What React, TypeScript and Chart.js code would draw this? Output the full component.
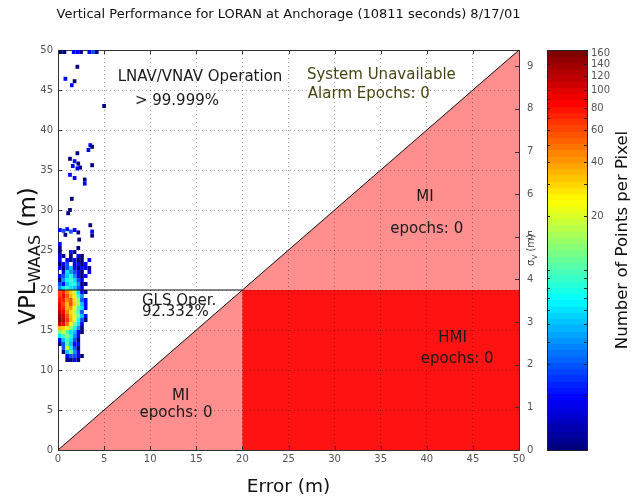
import { useEffect, useRef } from "react";
import { Chart, registerables } from "chart.js";

Chart.register(...registerables);

const TITLE = "Vertical Performance for LORAN at Anchorage (10811 seconds) 8/17/01";
const X_LABEL = "Error (m)";
const CB_LABEL = "Number of Points per Pixel";

const AXIS_MIN = 0;
const AXIS_MAX = 50;
const AXIS_STEP = 5;
const ALERT_LIMIT = 20;
const SIGMA_FACTOR = 5.33;
const SIGMA_TICKS = [0, 1, 2, 3, 4, 5, 6, 7, 8, 9];
const CB_MIN = 1;
const CB_MAX = 168;
const CB_TICKS = [20, 40, 60, 80, 100, 120, 140, 160];
const CB_MINOR = [2, 3, 4, 5, 6, 7, 8, 9, 10, 30, 50, 70, 90];
const CB_LEVELS = 64;

// density map: cell centres (error, VPL) and counts per cell
const CELL_W = 0.4;
const CELL_H = 0.5;
const gridX = [0.2, 0.6, 1.0, 1.4, 1.8, 2.2, 2.6, 3.0, 3.4, 3.8];
const gridY = [
  25.75, 25.25, 24.75, 24.25, 23.75, 23.25, 22.75, 22.25, 21.75, 21.25, 20.75, 20.25,
  19.75, 19.25, 18.75, 18.25, 17.75, 17.25, 16.75, 16.25, 15.75, 15.25, 14.75, 14.25,
  13.75, 13.25, 12.75, 12.25, 11.75, 11.25,
];
const gridCounts = [
  [2, 0, 0, 0, 0, 0, 0, 0, 0, 0],
  [1, 0, 0, 0, 0, 1, 0, 0, 0, 0],
  [1, 0, 0, 2, 1, 0, 0, 0, 0, 0],
  [2, 1, 0, 1, 0, 2, 1, 0, 0, 0],
  [2, 0, 2, 1, 2, 1, 1, 0, 2, 0],
  [1, 2, 3, 0, 2, 2, 1, 2, 0, 0],
  [2, 1, 3, 5, 2, 1, 2, 2, 1, 0],
  [0, 2, 6, 4, 3, 2, 1, 0, 2, 0],
  [2, 3, 5, 8, 4, 2, 1, 2, 0, 0],
  [1, 4, 7, 10, 6, 3, 2, 0, 0, 0],
  [3, 2, 5, 8, 8, 4, 1, 1, 0, 0],
  [4, 6, 9, 6, 5, 3, 2, 0, 0, 0],
  [60, 75, 45, 30, 18, 6, 2, 1, 0, 0],
  [65, 85, 55, 35, 25, 9, 4, 0, 0, 0],
  [80, 70, 45, 55, 28, 14, 3, 2, 0, 0],
  [90, 60, 35, 60, 30, 16, 5, 2, 0, 0],
  [100, 75, 35, 40, 22, 10, 6, 2, 0, 0],
  [120, 85, 45, 28, 18, 10, 3, 0, 0, 0],
  [140, 110, 55, 32, 20, 12, 5, 2, 0, 0],
  [150, 115, 65, 35, 24, 8, 3, 1, 0, 0],
  [105, 85, 50, 25, 12, 6, 2, 0, 0, 0],
  [35, 30, 22, 14, 8, 4, 1, 0, 0, 0],
  [12, 18, 10, 6, 5, 2, 1, 0, 0, 0],
  [6, 9, 14, 8, 4, 2, 0, 0, 0, 0],
  [2, 5, 9, 6, 3, 1, 0, 0, 0, 0],
  [1, 3, 11, 5, 2, 2, 0, 0, 0, 0],
  [0, 3, 18, 7, 3, 1, 0, 0, 0, 0],
  [0, 1, 5, 12, 4, 2, 0, 0, 0, 0],
  [0, 0, 2, 3, 3, 2, 1, 0, 0, 0],
  [0, 0, 1, 1, 2, 1, 0, 0, 0, 0],
];

// isolated cells
const sparseX = [
  0.3, 0.7, 1.7, 2.1, 2.5, 3.4, 3.8, 4.2,
  2.1, 0.8, 1.8, 1.5, 5.0,
  3.5, 3.3, 3.7, 2.1, 1.3, 1.8, 2.2, 1.6, 2.4, 2.1, 3.7, 1.3, 1.8, 2.9, 2.9, 1.5, 1.3, 1.1, 3.5, 3.7, 3.7,
  0.2, 0.6, 1.0, 1.4, 1.8, 2.2, 0.8, 2.3,
];
const sparseY = [
  49.75, 49.75, 49.75, 49.75, 49.75, 49.75, 49.75, 49.75,
  47.9, 46.4, 46.1, 45.6, 43.0,
  38.1, 37.5, 37.9, 37.1, 36.4, 36.1, 35.8, 35.5, 35.3, 35.2, 35.6, 34.4, 34.0, 33.8, 33.3, 31.4, 30.0, 29.6, 28.1, 27.3, 26.8,
  27.5, 27.4, 27.6, 27.3, 27.5, 27.2, 26.9, 26.3,
];
const sparseN = [
  1, 1, 2, 2, 1, 2, 3, 1,
  1, 2, 1, 2, 1,
  2, 2, 1, 1, 1, 2, 1, 2, 1, 2, 1, 2, 2, 1, 2, 1, 1, 1, 1, 2, 1,
  2, 3, 2, 3, 2, 1, 1, 1,
];

const PINK = "rgb(255,142,142)";
const RED = "rgb(255,18,18)";
const FONT = "'DejaVu Sans', 'Liberation Sans', sans-serif";

const clamp = (v: number) => Math.max(0, Math.min(1, v));
function jet(f: number) {
  const q = Math.max(0, Math.min(CB_LEVELS - 1, Math.floor(f * CB_LEVELS)));
  const t = q / (CB_LEVELS - 1);
  const r = clamp(1.5 - Math.abs(4 * t - 3));
  const g = clamp(1.5 - Math.abs(4 * t - 2));
  const b = clamp(1.5 - Math.abs(4 * t - 1));
  return `rgb(${Math.round(r * 255)},${Math.round(g * 255)},${Math.round(b * 255)})`;
}

const stanfordPlugin = {
  id: "stanford",
  beforeDraw(chart: any) {
    const { ctx, scales } = chart;
    const xs = scales.x;
    const ys = scales.y;
    const px = (v: number) => xs.getPixelForValue(v);
    const py = (v: number) => ys.getPixelForValue(v);
    ctx.save();
    ctx.fillStyle = PINK;
    ctx.beginPath();
    ctx.moveTo(px(AXIS_MIN), py(AXIS_MIN));
    ctx.lineTo(px(AXIS_MAX), py(AXIS_MIN));
    ctx.lineTo(px(AXIS_MAX), py(AXIS_MAX));
    ctx.closePath();
    ctx.fill();
    ctx.fillStyle = RED;
    ctx.fillRect(px(ALERT_LIMIT), py(ALERT_LIMIT), px(AXIS_MAX) - px(ALERT_LIMIT), py(AXIS_MIN) - py(ALERT_LIMIT));
    ctx.restore();
  },
  beforeDatasetsDraw(chart: any) {
    const { ctx, chartArea: a, scales } = chart;
    const xs = scales.x;
    const ys = scales.y;
    const sg = scales.sigma;
    const cb = scales.cb;
    const colorFor = (n: number) =>
      jet((cb.bottom - cb.getPixelForValue(n)) / (cb.bottom - cb.top));
    ctx.save();
    // box
    ctx.strokeStyle = "#333";
    ctx.lineWidth = 1;
    ctx.strokeRect(Math.round(a.left) + 0.5, Math.round(a.top) + 0.5, Math.round(a.right - a.left), Math.round(a.bottom - a.top));
    // inward ticks
    ctx.beginPath();
    for (let v = AXIS_MIN; v <= AXIS_MAX; v += AXIS_STEP) {
      const x = Math.round(xs.getPixelForValue(v)) + 0.5;
      ctx.moveTo(x, a.bottom); ctx.lineTo(x, a.bottom - 4);
      ctx.moveTo(x, a.top); ctx.lineTo(x, a.top + 4);
      const y = Math.round(ys.getPixelForValue(v)) + 0.5;
      ctx.moveTo(a.left, y); ctx.lineTo(a.left + 4, y);
    }
    for (const s of SIGMA_TICKS) {
      const y = Math.round(sg.getPixelForValue(s)) + 0.5;
      ctx.moveTo(a.right, y); ctx.lineTo(a.right - 4, y);
    }
    ctx.stroke();
    // density cells
    ctx.beginPath();
    ctx.rect(a.left - 1, a.top - 1, a.right - a.left + 2, a.bottom - a.top + 2);
    ctx.clip();
    const cell = (cx: number, cy: number, n: number) => {
      if (!n) return;
      const x0 = xs.getPixelForValue(cx - CELL_W / 2);
      const x1 = xs.getPixelForValue(cx + CELL_W / 2);
      const y0 = ys.getPixelForValue(cy + CELL_H / 2);
      const y1 = ys.getPixelForValue(cy - CELL_H / 2);
      ctx.fillStyle = colorFor(n);
      ctx.fillRect(x0, y0, x1 - x0, y1 - y0);
    };
    gridY.forEach((cy, r) => gridX.forEach((cx, c) => cell(cx, cy, gridCounts[r][c])));
    sparseX.forEach((cx, i) => cell(cx, sparseY[i], sparseN[i]));
    ctx.restore();
  },
  afterDraw(chart: any) {
    const { ctx, chartArea: a, scales } = chart;
    const xs = scales.x;
    const ys = scales.y;
    const cb = scales.cb;
    const px = (v: number) => xs.getPixelForValue(v);
    const py = (v: number) => ys.getPixelForValue(v);
    ctx.save();
    // colorbar
    const cbL = cb.left;
    const cbR = cb.left + 40;
    for (let i = 0; i < CB_LEVELS; i++) {
      const lo = Math.pow(CB_MAX / CB_MIN, i / CB_LEVELS) * CB_MIN;
      const hi = Math.pow(CB_MAX / CB_MIN, (i + 1) / CB_LEVELS) * CB_MIN;
      const y0 = cb.getPixelForValue(hi);
      const y1 = cb.getPixelForValue(lo);
      ctx.fillStyle = jet((i + 0.5) / CB_LEVELS);
      ctx.fillRect(cbL, Math.floor(y0), cbR - cbL, Math.ceil(y1) - Math.floor(y0));
    }
    ctx.strokeStyle = "#222";
    ctx.lineWidth = 1;
    ctx.strokeRect(cbL + 0.5, Math.round(cb.top) + 0.5, cbR - cbL, Math.round(cb.bottom - cb.top));
    ctx.beginPath();
    [...CB_TICKS, ...CB_MINOR].forEach((v) => {
      const y = Math.round(cb.getPixelForValue(v)) + 0.5;
      ctx.moveTo(cbL, y); ctx.lineTo(cbL + 3, y);
      ctx.moveTo(cbR, y); ctx.lineTo(cbR - 3, y);
    });
    ctx.stroke();

    // title
    ctx.fillStyle = "#111";
    ctx.textAlign = "center";
    ctx.textBaseline = "middle";
    ctx.font = `13px ${FONT}`;
    ctx.fillText(TITLE, (a.left + a.right) / 2, 15);
    // x label
    ctx.font = `18.5px ${FONT}`;
    ctx.fillText(X_LABEL, (a.left + a.right) / 2, 487);

    // y label with subscript
    const yc = (a.top + a.bottom) / 2;
    ctx.save();
    ctx.translate(35, yc + 6);
    ctx.rotate(-Math.PI / 2);
    ctx.textAlign = "left";
    ctx.textBaseline = "alphabetic";
    const big = `23px ${FONT}`;
    const small = `16px ${FONT}`;
    ctx.font = big; const w1 = ctx.measureText("VPL").width; const w3 = ctx.measureText(" (m)").width;
    ctx.font = small; const w2 = ctx.measureText("WAAS").width;
    let sx = -(w1 + w2 + w3) / 2;
    ctx.font = big; ctx.fillText("VPL", sx, 0); sx += w1;
    ctx.font = small; ctx.fillText("WAAS", sx, 5); sx += w2;
    ctx.font = big; ctx.fillText(" (m)", sx, 0);
    ctx.restore();

    // sigma label
    ctx.save();
    ctx.translate(534, yc);
    ctx.rotate(-Math.PI / 2);
    ctx.textAlign = "left";
    ctx.textBaseline = "alphabetic";
    ctx.fillStyle = "#444";
    const sBig = `10px ${FONT}`;
    const sSmall = `7px ${FONT}`;
    ctx.font = sBig; const s1 = ctx.measureText("σ").width; const s3 = ctx.measureText(" (m)").width;
    ctx.font = sSmall; const s2 = ctx.measureText("V").width;
    let tx = -(s1 + s2 + s3) / 2;
    ctx.font = sBig; ctx.fillText("σ", tx, 0); tx += s1;
    ctx.font = sSmall; ctx.fillText("V", tx, 3); tx += s2;
    ctx.font = sBig; ctx.fillText(" (m)", tx, 0);
    ctx.restore();

    // colorbar label
    ctx.save();
    ctx.translate(623, (cb.top + cb.bottom) / 2 - 10);
    ctx.rotate(-Math.PI / 2);
    ctx.textAlign = "center";
    ctx.textBaseline = "middle";
    ctx.fillStyle = "#111";
    ctx.font = `16.5px ${FONT}`;
    ctx.fillText(CB_LABEL, 0, 0);
    ctx.restore();

    // region annotations
    const text = (s: string, x: number, y: number, align: CanvasTextAlign, color = "#1a1a1a") => {
      ctx.textAlign = align;
      ctx.fillStyle = color;
      ctx.fillText(s, px(x), py(y));
    };
    ctx.textBaseline = "middle";
    ctx.font = `15px ${FONT}`;
    text("LNAV/VNAV Operation", 15.4, 46.6, "center");
    text("> 99.999%", 12.9, 43.6, "center");
    text("System Unavailable", 27.0, 46.8, "left", "rgb(70,70,20)");
    text("Alarm Epochs: 0", 27.1, 44.5, "left", "rgb(70,70,20)");
    text("MI", 39.8, 31.6, "center");
    text("epochs: 0", 40.0, 27.6, "center");
    text("GLS Oper.", 9.1, 18.6, "left");
    text("92.332%", 9.1, 17.2, "left");
    text("HMI", 42.8, 14.0, "center");
    text("epochs: 0", 43.3, 11.3, "center");
    text("MI", 13.3, 6.7, "center");
    text("epochs: 0", 12.8, 4.6, "center");
    ctx.restore();
  },
};

export default function App() {
  const ref = useRef<HTMLCanvasElement>(null);
  useEffect(() => {
    if (!ref.current) return;
    const tickFont = { family: FONT, size: 10 };
    const chart = new Chart(ref.current, {
      type: "scatter",
      data: {
        datasets: [
          {
            data: [{ x: AXIS_MIN, y: AXIS_MIN }, { x: AXIS_MAX, y: AXIS_MAX }],
            showLine: true,
            borderColor: "#111",
            borderWidth: 1,
            pointRadius: 0,
          },
          {
            data: [{ x: AXIS_MIN, y: ALERT_LIMIT }, { x: ALERT_LIMIT, y: ALERT_LIMIT }],
            showLine: true,
            borderColor: "#111",
            borderWidth: 1,
            pointRadius: 0,
          },
        ],
      },
      options: {
        responsive: false,
        animation: false,
        devicePixelRatio: 1,
        layout: { padding: { top: 32, left: 0, right: 0, bottom: 0 } },
        plugins: { legend: { display: false }, tooltip: { enabled: false }, title: { display: false } },
        scales: {
          x: {
            type: "linear",
            min: AXIS_MIN,
            max: AXIS_MAX,
            ticks: { stepSize: AXIS_STEP, font: tickFont, color: "#555", padding: 3, maxRotation: 0 },
            grid: { color: "rgba(0,0,0,0.35)", drawTicks: false, lineWidth: 1 },
            border: { display: false, dash: [1, 3] },
            afterFit: (s: any) => { s.height = 43; },
          },
          y: {
            type: "linear",
            position: "left",
            min: AXIS_MIN,
            max: AXIS_MAX,
            ticks: { stepSize: AXIS_STEP, font: tickFont, color: "#555", padding: 5 },
            grid: { color: "rgba(0,0,0,0.35)", drawTicks: false, lineWidth: 1 },
            border: { display: false, dash: [1, 3] },
            afterFit: (s: any) => { s.width = 58; },
          },
          sigma: {
            type: "linear",
            position: "right",
            weight: 0,
            min: 0,
            max: AXIS_MAX / SIGMA_FACTOR,
            afterBuildTicks: (s: any) => { s.ticks = SIGMA_TICKS.map((v) => ({ value: v })); },
            ticks: { font: tickFont, color: "#555", padding: 8 },
            grid: { display: false, drawTicks: false },
            border: { display: false },
            afterFit: (s: any) => { s.width = 28; },
          },
          cb: {
            type: "logarithmic",
            position: "right",
            weight: 1,
            min: CB_MIN,
            max: CB_MAX,
            afterBuildTicks: (s: any) => { s.ticks = CB_TICKS.map((v) => ({ value: v })); },
            ticks: { font: tickFont, color: "#555", padding: 44, callback: (v: any) => String(v) },
            grid: { display: false, drawTicks: false },
            border: { display: false },
            afterFit: (s: any) => { s.width = 90; },
          },
        },
      } as any,
      plugins: [stanfordPlugin],
    });
    return () => chart.destroy();
  }, []);
  return (
    <div style={{ position: "fixed", left: 0, top: 0, width: 637, height: 500, background: "#fff" }}>
      <canvas ref={ref} width={637} height={500} style={{ display: "block", width: 637, height: 500 }} />
    </div>
  );
}
